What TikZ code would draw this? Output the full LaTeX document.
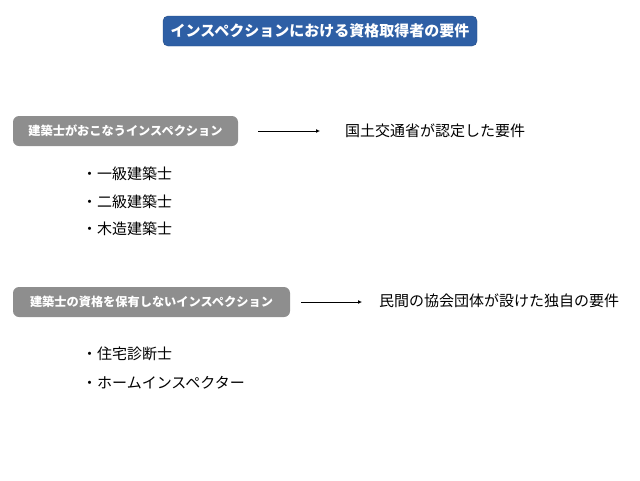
\documentclass[tikz,border=0pt]{standalone}
\usepackage{fontspec}
\setmainfont{Noto Sans CJK JP}
\usetikzlibrary{arrows.meta}
\definecolor{titleblue}{HTML}{2E5FA5}
\definecolor{boxgray}{HTML}{8E8E8E}
\tikzset{
  titlebox/.style={fill=titleblue,draw=titleblue!80!black,rounded corners=5pt,text=white,font=\fontsize{15}{17}\selectfont\bfseries,minimum width=314pt,minimum height=30pt,inner sep=0pt},
  graybox/.style={fill=boxgray,rounded corners=6pt,text=white,font=\fontsize{12.2}{14}\selectfont\bfseries,minimum height=30pt,inner sep=0pt},
  plain/.style={font=\fontsize{15}{17}\selectfont,anchor=west,inner sep=0pt},
  arr/.style={-{Latex[length=4pt,width=4pt]},line width=0.8pt}
}
\begin{document}
\begin{tikzpicture}[x=1pt,y=-1pt]
\useasboundingbox (0,0) rectangle (640,480);
\node[titlebox] (title) at (320,31) {インスペクションにおける資格取得者の要件};
\node[graybox,minimum width=225pt] (b1) at (125.5,131) {建築士がおこなうインスペクション};
\coordinate (a1s) at (258,131);
\coordinate (a1e) at (320,131);
\draw[arr] (a1s) -- (a1e);
\node[plain] (t1) at (345,131) {国土交通省が認定した要件};
\node[plain] (l1) at (82,174) {・一級建築士};
\node[plain] (l2) at (82,202) {・二級建築士};
\node[plain] (l3) at (82,229) {・木造建築士};
\node[graybox,minimum width=277pt] (b2) at (151.5,302) {建築士の資格を保有しないインスペクション};
\coordinate (a2s) at (301,302);
\coordinate (a2e) at (362,302);
\draw[arr] (a2s) -- (a2e);
\node[plain] (t2) at (379,301) {民間の協会団体が設けた独自の要件};
\node[plain] (l4) at (82,354) {・住宅診断士};
\node[plain] (l5) at (82,383) {・ホームインスペクター};
\end{tikzpicture}
\end{document}
